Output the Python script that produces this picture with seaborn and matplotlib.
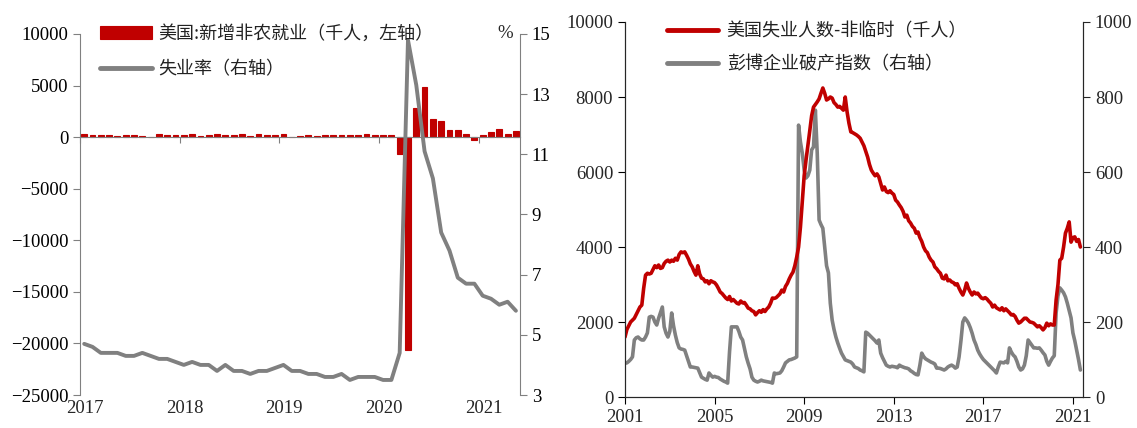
import numpy as np
import pandas as pd
import matplotlib
matplotlib.use("Agg")
import matplotlib.pyplot as plt
import matplotlib.transforms as mtransforms
from matplotlib.font_manager import FontProperties
import seaborn as sns

# ---------------- data: left panel (monthly, 2017-01 .. 2021-05)
nfp = [259, 195, 182, 214, 148, 214, 190, 155, 18, 256, 216, 175,
       176, 324, 155, 175, 270, 235, 173, 282, 119, 277, 196, 227,
       312, -20, 153, 216, 62, 178, 166, 219, 180, 186, 256, 184,
       214, 251, -1683, -20679, 2833, 4846, 1726, 1583, 716, 680, 264, -306,
       233, 536, 785, 269, 559]
unrate = [4.7, 4.6, 4.4, 4.4, 4.4, 4.3, 4.3, 4.4, 4.3, 4.2, 4.2, 4.1,
          4.0, 4.1, 4.0, 4.0, 3.8, 4.0, 3.8, 3.8, 3.7, 3.8, 3.8, 3.9,
          4.0, 3.8, 3.8, 3.7, 3.7, 3.6, 3.6, 3.7, 3.5, 3.6, 3.6, 3.6,
          3.5, 3.5, 4.4, 14.8, 13.3, 11.1, 10.2, 8.4, 7.8, 6.9, 6.7, 6.7,
          6.3, 6.2, 6.0, 6.1, 5.8]
left_years = ["2017", "2018", "2019", "2020", "2021"]

# ---------------- data: right panel (monthly, 2001-01 .. 2021-05)
unemp_perm = [1600, 1800, 1900, 2000, 2050, 2100, 2200, 2300, 2400, 2450, 2900, 3250,
              3300, 3280, 3300, 3400, 3500, 3450, 3520, 3430, 3450, 3560, 3620, 3650,
              3600, 3650, 3620, 3700, 3650, 3800, 3870, 3850, 3870, 3780, 3680, 3550,
              3470, 3350, 3250, 3500, 3280, 3170, 3150, 3070, 3100, 3020, 3100, 3070,
              3050, 2990, 2900, 2800, 2760, 2700, 2640, 2600, 2680, 2560, 2600, 2550,
              2500, 2480, 2560, 2510, 2520, 2450, 2370, 2350, 2300, 2280, 2190, 2250,
              2300, 2260, 2330, 2280, 2350, 2400, 2500, 2640, 2630, 2650, 2700, 2750,
              2850, 2800, 2950, 3030, 3150, 3250, 3330, 3500, 3730, 4000, 4530, 5200,
              5900, 6320, 6700, 7100, 7500, 7730, 7800, 7870, 7950, 8100, 8240, 8100,
              7920, 7950, 8000, 7970, 7850, 7800, 7730, 7750, 7700, 7650, 8000, 7600,
              7300, 7070, 7050, 7020, 6990, 6950, 6900, 6800, 6700, 6550, 6400, 6200,
              6050, 5970, 5900, 5950, 5870, 5700, 5520, 5600, 5480, 5450, 5500, 5440,
              5400, 5250, 5200, 5120, 5050, 4950, 4800, 4850, 4700, 4640, 4550, 4500,
              4370, 4400, 4250, 4150, 4000, 3900, 3850, 3730, 3650, 3600, 3470, 3420,
              3350, 3300, 3170, 3150, 3250, 3100, 3120, 3070, 3050, 2990, 3020, 2900,
              2800, 2720, 2850, 3040, 2900, 2800, 2720, 2800, 2750, 2770, 2700, 2640,
              2620, 2650, 2610, 2550, 2500, 2400, 2450, 2380, 2350, 2320, 2380, 2300,
              2350, 2300, 2250, 2190, 2200, 2150, 2050, 1970, 2000, 2050, 2100, 2100,
              2050, 2000, 1990, 1970, 1920, 1870, 1900, 1850, 1790, 1850, 1970, 1900,
              1950, 1920, 1920, 2590, 3000, 3650, 3700, 4000, 4370, 4500, 4670, 4130,
              4250, 4270, 4150, 4200, 4000]
bankrupt = [90, 91, 95, 100, 107, 152, 158, 160, 155, 152, 152, 160,
            171, 213, 215, 213, 200, 192, 210, 225, 240, 187, 170, 160,
            175, 224, 190, 165, 145, 131, 128, 127, 125, 110, 95, 80,
            80, 79, 78, 77, 65, 53, 50, 47, 45, 64, 58, 53,
            55, 53, 52, 48, 45, 42, 40, 37, 120, 187, 187, 187,
            187, 175, 160, 152, 130, 107, 90, 75, 53, 45, 42, 40,
            42, 45, 43, 42, 41, 40, 39, 37, 64, 62, 63, 64,
            70, 80, 91, 95, 99, 100, 102, 104, 107, 725, 680, 650,
            605, 584, 590, 605, 659, 667, 765, 650, 472, 460, 450, 400,
            350, 331, 250, 205, 180, 160, 144, 130, 117, 108, 99, 97,
            95, 93, 88, 80, 78, 76, 72, 70, 67, 173, 170, 165,
            160, 155, 150, 144, 152, 117, 105, 95, 85, 82, 80, 82,
            81, 80, 78, 85, 82, 80, 78, 77, 75, 70, 67, 63,
            60, 59, 85, 117, 108, 102, 99, 96, 93, 91, 88, 77,
            77, 76, 74, 72, 75, 80, 83, 85, 82, 77, 80, 107,
            150, 200, 211, 205, 197, 185, 170, 152, 140, 125, 115, 107,
            100, 95, 90, 85, 80, 75, 70, 64, 80, 93, 92, 91,
            95, 91, 131, 120, 112, 107, 95, 80, 72, 75, 85, 110,
            152, 145, 138, 131, 131, 130, 131, 125, 118, 112, 95, 85,
            95, 104, 110, 224, 270, 291, 285, 278, 267, 250, 230, 211,
            171, 150, 125, 100, 72]
right_years = [2001, 2005, 2009, 2013, 2017, 2021]

RED = "#C00000"
GRAY = "#808080"

sns.set_style("ticks")
plt.rcParams['font.family'] = ['Liberation Serif', 'Noto Sans CJK SC', 'DejaVu Sans']
plt.rcParams['font.size'] = 13.5
cjk = FontProperties(family=['Noto Sans CJK SC', 'DejaVu Sans'], size=13)

fig = plt.figure(figsize=(11.37, 4.28), dpi=100)

# ================= left panel
ax1 = fig.add_axes([0.0704, 0.0771, 0.387, 0.8435])
df1 = pd.DataFrame({"i": np.arange(len(nfp)), "nfp": nfp, "ur": unrate})
sns.barplot(data=df1, x="i", y="nfp", color=RED, saturation=1, width=0.7,
            edgecolor=RED, linewidth=0.8, ax=ax1)
ax1.set_xlim(-0.5, len(nfp) - 0.5)
ax1.set_ylim(-25000, 10000)
ax1.set_yticks(range(-25000, 10001, 5000))
ax1.set_xlabel("")
ax1.set_ylabel("")
for s in ["top", "right"]:
    ax1.spines[s].set_visible(False)
ax1.spines["left"].set_color(GRAY)
ax1.spines["bottom"].set_color(GRAY)
ax1.spines["bottom"].set_position(("data", 0))
ax1.tick_params(axis="y", colors=GRAY, labelcolor="black", length=5, direction="out")
xt = [-0.5 + 12 * k for k in range(len(left_years))]
ax1.set_xticks(xt)
ax1.set_xticklabels([""] * len(xt))
ax1.tick_params(axis="x", colors=GRAY, length=4, direction="out")
trans = mtransforms.blended_transform_factory(ax1.transData, ax1.transAxes)
for x, lab in zip(xt, left_years):
    ax1.text(x + 0.6, -0.015, lab, transform=trans, ha="center", va="top")

ax1b = ax1.twinx()
sns.lineplot(data=df1, x="i", y="ur", color=GRAY, lw=2.8, ax=ax1b, legend=False)
ax1b.set_ylim(3, 15)
ax1b.set_yticks(range(3, 16, 2))
ax1b.set_ylabel("")
for s in ["top", "left", "bottom"]:
    ax1b.spines[s].set_visible(False)
ax1b.spines["right"].set_color(GRAY)
ax1b.tick_params(axis="y", colors=GRAY, labelcolor="black", length=5, direction="out")
ax1b.text(0.966, 1.0, "%", transform=ax1b.transAxes, ha="center", va="center")

h1 = [ax1.patches[0], ax1b.lines[0]]
ax1b.legend(h1, ["美国:新增非农就业（千人，左轴）", "失业率（右轴）"], prop=cjk,
            loc="upper left", bbox_to_anchor=(0.045, 1.025), frameon=False,
            borderpad=0, borderaxespad=0, handlelength=2.9, handleheight=0.7,
            handletextpad=0.35, labelspacing=0.95, labelcolor="#222222")

# ================= right panel
ax2 = fig.add_axes([0.5497, 0.0724, 0.4028, 0.8762])
t = 2001 + np.arange(len(unemp_perm)) / 12.0
df2 = pd.DataFrame({"t": t, "u": unemp_perm, "b": bankrupt})
sns.lineplot(data=df2, x="t", y="u", color=RED, lw=2.6, ax=ax2, legend=False)
ax2.set_xlim(2001, 2021.45)
ax2.set_ylim(0, 10000)
ax2.set_yticks(range(0, 10001, 2000))
ax2.set_xticks(right_years)
ax2.set_xticklabels([str(y) for y in right_years])
ax2.set_xlabel("")
ax2.set_ylabel("")
ax2.spines["top"].set_visible(False)
ax2.tick_params(axis="both", length=5, direction="out", color="black")

ax2b = ax2.twinx()
sns.lineplot(data=df2, x="t", y="b", color=GRAY, lw=2.6, ax=ax2b, legend=False)
ax2b.set_ylim(0, 1000)
ax2b.set_yticks(range(0, 1001, 200))
ax2b.set_ylabel("")
ax2b.spines["top"].set_visible(False)
ax2b.tick_params(axis="y", length=5, direction="out")
ax2.set_zorder(ax2b.get_zorder() + 1)
ax2.patch.set_visible(False)

h2 = [ax2.lines[0], ax2b.lines[0]]
ax2.legend(h2, ["美国失业人数-非临时（千人）", "彭博企业破产指数（右轴）"], prop=cjk,
           loc="upper left", bbox_to_anchor=(0.092, 0.998), frameon=False,
           borderpad=0, borderaxespad=0, handlelength=2.8,
           handletextpad=0.5, labelspacing=0.78, labelcolor="#222222")
for ln in ax2.get_legend().get_lines():
    ln.set_linewidth(3.5)
for ln in ax1b.get_legend().get_lines():
    ln.set_linewidth(3.5)

fig.savefig("out.png", dpi=100)
